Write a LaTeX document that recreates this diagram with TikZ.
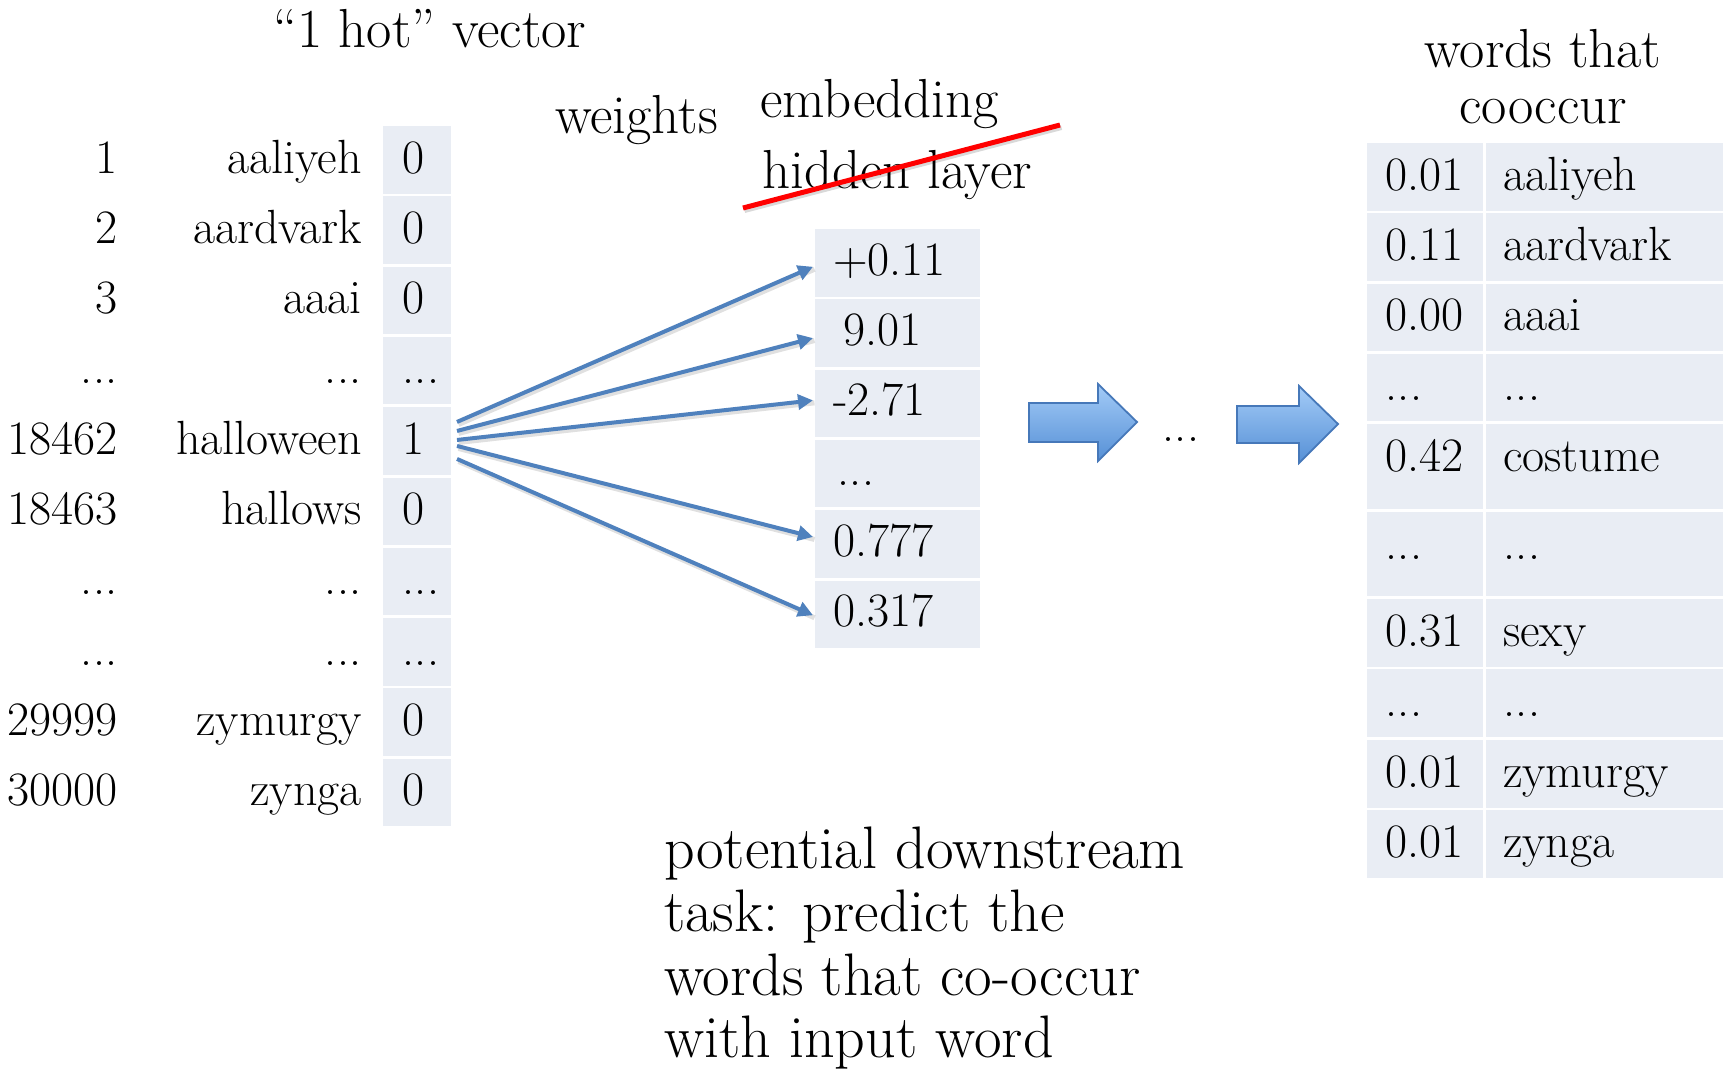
\documentclass[tikz,border=0pt]{standalone}
\usetikzlibrary{calc,arrows.meta}

\definecolor{cellfill}{RGB}{233,237,244}
\definecolor{linkblue}{RGB}{79,129,189}
\definecolor{blockedge}{RGB}{70,120,185}
\definecolor{blocktop}{RGB}{163,203,247}
\definecolor{blockbot}{RGB}{86,144,214}
\definecolor{strikered}{RGB}{255,0,0}

% three dots for elided rows
\newcommand\spaceddots{.\kern0.01em.\kern0.01em.}

\tikzset{
  cell/.style={fill=cellfill, draw=none, inner sep=0pt, outer sep=0pt, anchor=north west},
  tabtext/.style={inner sep=0pt, font=\fontsize{48}{56}\selectfont},
  headtext/.style={inner sep=0pt, font=\fontsize{55}{63}\selectfont},
  notetext/.style={inner sep=0pt, anchor=base west, font=\fontsize{60}{66}\selectfont},
  link/.style={draw=linkblue, line width=4pt, -{Triangle[length=15pt,width=15pt]}},
  linkshadow/.style={draw=black, opacity=0.12, line width=5pt, transform canvas={shift={(1.5pt,-2.5pt)}}},
  blockarrow/.style={top color=blocktop, bottom color=blockbot, draw=blockedge, line width=1.8pt, line join=miter},
}

\begin{document}
\begin{tikzpicture}[x=1pt,y=-1pt]
\useasboundingbox[fill=white] (0,0) rectangle (1723,1069);

% input vocabulary with its one-hot column
\foreach \n/\w/\v [count=\i from 0] in {1/aaliyeh/0, 2/aardvark/0, 3/aaai/0, \spaceddots/\spaceddots/\spaceddots,
    18462/halloween/1, 18463/hallows/0, \spaceddots/\spaceddots/\spaceddots, \spaceddots/\spaceddots/\spaceddots,
    29999/zymurgy/0, 30000/zynga/0}{
  \pgfmathsetmacro\rowtop{126+70.3*\i}
  \node[cell, minimum width=68pt, minimum height=67.5pt] (l\i) at (383,\rowtop) {};
  \node[tabtext, anchor=base east] (ln\i) at (118,\rowtop+47) {\n};
  \node[tabtext, anchor=base east] (lw\i) at (362,\rowtop+47) {\w};
  \node[tabtext, anchor=base west] (lv\i) at (402,\rowtop+47) {\v};
}

% embedding vector
\foreach \t/\dx [count=\i from 0] in {+0.11/0, 9.01/10, -2.71/0, \spaceddots/4, 0.777/0, 0.317/0}{
  \pgfmathsetmacro\rowtop{229+70.3*\i}
  \node[cell, minimum width=165pt, minimum height=67.5pt] (m\i) at (815,\rowtop) {};
  \node[tabtext, anchor=base west] (mt\i) at (833+\dx,\rowtop+46) {\t};
}

% co-occurrence table
\foreach \rt/\rh/\p/\w [count=\i from 0] in {143/67.5/0.01/aaliyeh, 213.3/67.5/0.11/aardvark,
    283.6/67.5/0.00/aaai, 353.9/67.5/\spaceddots/\spaceddots, 424/85/0.42/costume,
    512/84/\spaceddots/\spaceddots, 599/67.5/0.31/sexy, 669/68/\spaceddots/\spaceddots,
    740/67.5/0.01/zymurgy, 810/67.5/0.01/zynga}{
  \node[cell, minimum width=116pt, minimum height=\rh] (ra\i) at (1367,\rt) {};
  \node[cell, minimum width=237pt, minimum height=\rh] (rb\i) at (1486,\rt) {};
  \node[tabtext, anchor=base west] (rp\i) at (1385,\rt+47) {\p};
  \node[tabtext, anchor=base west] (rw\i) at (1503,\rt+47) {\w};
}

% headings
\node[headtext, anchor=base west] (hot) at (273,47) {“1 hot”\ vector};
\node[headtext, anchor=base west] (weights) at (555,133) {weights};
\node[headtext, anchor=base west] (embed) at (760,117) {embedding};
\node[headtext, anchor=base west] (hidden) at (762,188) {hidden layer};
\node[headtext, anchor=base] (co1) at (1543,67) {words that};
\node[headtext, anchor=base] (co2) at (1543,123) {cooccur};

% struck-out label
\coordinate (strikeA) at (743,208);
\coordinate (strikeB) at (1060,125);
\draw[draw=black, opacity=0.15, line width=5pt, transform canvas={shift={(1.5pt,-2.5pt)}}] (strikeA) -- (strikeB);
\draw[strikered, line width=5pt] (strikeA) -- (strikeB);

% weights from the active input unit
\coordinate (s0) at ($(l4.east)+(6,-19)$);
\coordinate (s1) at ($(l4.east)+(6,-10)$);
\coordinate (s2) at ($(l4.east)+(6,-1)$);
\coordinate (s3) at ($(l4.east)+(6,5)$);
\coordinate (s4) at ($(l4.east)+(6,18)$);
\coordinate (e0) at ($(m0.west)+(-2,4)$);
\coordinate (e1) at ($(m1.west)+(-2,5)$);
\coordinate (e2) at ($(m2.west)+(-2,-3)$);
\coordinate (e3) at ($(m4.west)+(-2,-7)$);
\coordinate (e4) at ($(m5.west)+(-2,1)$);
\foreach \k in {0,...,4}{
  \draw[linkshadow] (s\k) -- (e\k);
}
\foreach \k in {0,...,4}{
  \draw[link] (s\k) -- (e\k);
}

% block arrows and the elided layers between them
\draw[blockarrow] (1029,403) -- (1098,403) -- (1098,384) -- (1137,422) -- (1098,461) -- (1098,442) -- (1029,442) -- cycle;
\node[tabtext, anchor=base west] (mid) at (1162,441) {\spaceddots};
\draw[blockarrow] (1237,406) -- (1299,406) -- (1299,386) -- (1338,424) -- (1299,463) -- (1299,443) -- (1237,443) -- cycle;

% note
\node[notetext] (n1) at (664,868) {potential downstream};
\node[notetext] (n2) at (664,931) {task: predict the};
\node[notetext] (n3) at (664,995) {words that co-occur};
\node[notetext] (n4) at (664,1057) {with input word};
\end{tikzpicture}
\end{document}
